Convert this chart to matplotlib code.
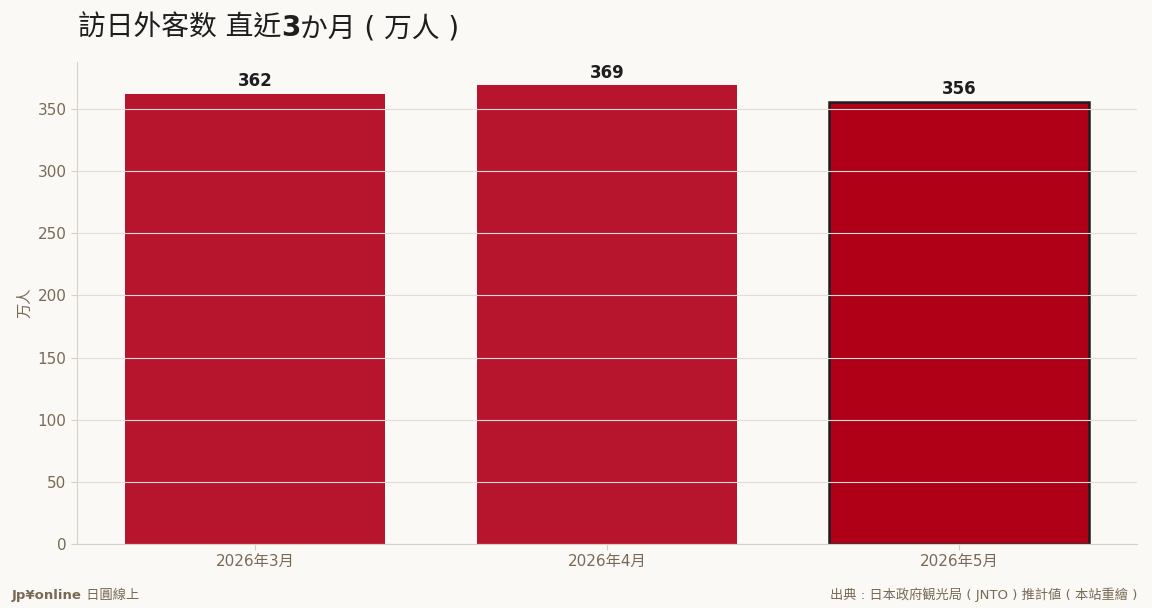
import matplotlib
matplotlib.use("Agg")

import matplotlib.pyplot as plt

plt.rcParams["font.family"] = ["DejaVu Sans", "Noto Sans CJK TC"]

months = ["2026年3月", "2026年4月", "2026年5月"]
visitors = [362, 369, 356]
highlight = [False, False, True]

BG = "#FAF9F6"
TEXT_DARK = "#1E1E1E"
TEXT_MUTED = "#7A6A55"
BAR = "#B7152D"
BAR_HI = "#B00018"
GRID = "#E2DDD5"
SPINE = "#D8D0C4"


def place_row(fig, x0, y, parts):
    # lay text pieces side by side, each with its own weight
    renderer = fig.canvas.get_renderer()
    x = x0
    for s, kw in parts:
        t = fig.text(x, y, s, ha="left", va="center", **kw)
        bb = t.get_window_extent(renderer=renderer)
        x += bb.width / fig.bbox.width


def main() -> None:
    fig = plt.figure(figsize=(11.52, 6.08), dpi=100, facecolor=BG)
    ax = fig.add_axes([77 / 1152, 64 / 608, 1060 / 1152, 482 / 608])
    ax.set_facecolor(BG)

    x = range(len(months))
    colors = [BAR_HI if h else BAR for h in highlight]
    edges = [TEXT_DARK if h else "none" for h in highlight]
    widths = [1.8 if h else 0 for h in highlight]
    ax.bar(x, visitors, width=0.738, color=colors, edgecolor=edges,
           linewidth=widths, zorder=1)

    for xi, v in zip(x, visitors):
        ax.text(xi, v + 3, f"{v}", ha="center", va="bottom",
                fontsize=12, fontweight="bold", color=TEXT_DARK, zorder=3)

    ax.set_xlim(-0.505, 2.505)
    ax.set_ylim(0, max(visitors) * 1.051)
    ax.set_xticks(list(x))
    ax.set_xticklabels(months)
    ax.set_yticks(range(0, 351, 50))

    ax.yaxis.grid(True, color=GRID, linewidth=0.8, zorder=2)
    ax.set_axisbelow(False)
    ax.tick_params(colors=SPINE, labelcolor=TEXT_MUTED, labelsize=11, length=4)

    for side in ["top", "right"]:
        ax.spines[side].set_visible(False)
    for side in ["left", "bottom"]:
        ax.spines[side].set_color(SPINE)

    ax.set_ylabel("万人", color=TEXT_MUTED, fontsize=11, labelpad=4)

    title_kw = dict(fontsize=20, color=TEXT_DARK)
    place_row(fig, 78 / 1152, 1 - 28 / 608, [
        ("訪日外客数 直近", title_kw),
        ("3", dict(title_kw, fontweight="bold")),
        ("か月 ( 万人 )", title_kw),
    ])

    foot_kw = dict(fontsize=9.5, color=TEXT_MUTED)
    place_row(fig, 12 / 1152, 1 - 595 / 608, [
        ("Jp¥online", dict(foot_kw, fontweight="bold")),
        (" 日圓線上", foot_kw),
    ])
    fig.text(1137 / 1152, 1 - 595 / 608,
             "出典 : 日本政府観光局 ( JNTO ) 推計値 ( 本站重繪 )",
             ha="right", va="center", **foot_kw)

    fig.savefig("out.png", dpi=100, facecolor=BG)
    plt.close(fig)


if __name__ == "__main__":
    main()
